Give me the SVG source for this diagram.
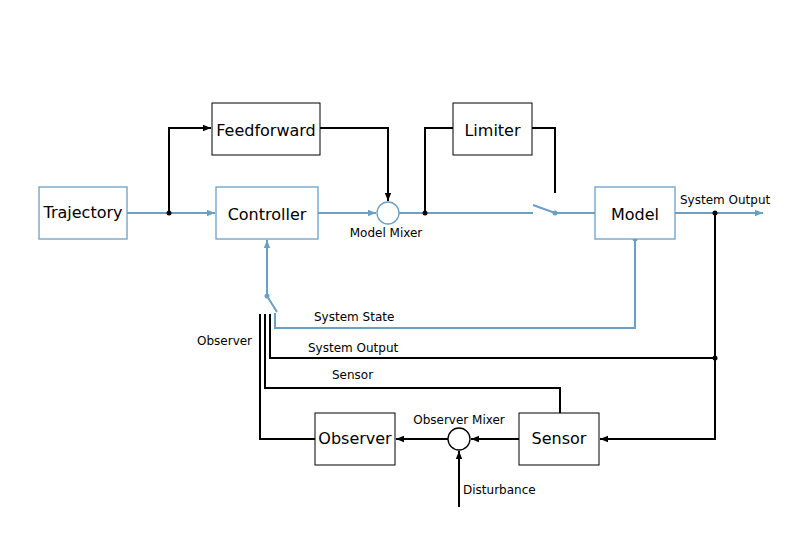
<svg xmlns="http://www.w3.org/2000/svg" width="794" height="560" viewBox="0 0 794 560">
<defs>
<marker id="ab" viewBox="0 0 10 10" refX="10" refY="5" markerWidth="8" markerHeight="8" markerUnits="userSpaceOnUse" orient="auto"><path d="M0,1 L10,5 L0,9 z" fill="#000"/></marker>
<marker id="au" viewBox="0 0 10 10" refX="10" refY="5" markerWidth="8" markerHeight="8" markerUnits="userSpaceOnUse" orient="auto"><path d="M0,1 L10,5 L0,9 z" fill="#6a9fc6"/></marker>
</defs>
<style>
.bb{fill:#fff;stroke:#000;stroke-width:1}
.ub{fill:#fff;stroke:#6a9fc6;stroke-width:1.3}
.lb{fill:none;stroke:#000;stroke-width:2}
.lu{fill:none;stroke:#6a9fc6;stroke-width:2}
.t{font-family:"DejaVu Sans",sans-serif;font-size:16px;text-anchor:middle;fill:#000}
.s{font-family:"DejaVu Sans",sans-serif;font-size:12px;fill:#000}
</style>
<rect width="794" height="560" fill="#fff"/>
<g id="connectors">
<path class="lu" d="M127,213 H215" marker-end="url(#au)"/>
<path class="lb" d="M169,213 V128 H211" marker-end="url(#ab)"/>
<path class="lb" d="M320,128 H388 V201" marker-end="url(#ab)"/>
<path class="lu" d="M318,213 H376" marker-end="url(#au)"/>
<path class="lu" d="M399,213 H533"/>
<path class="lb" d="M425,213 V128 H453"/>
<path class="lb" d="M532,128 H555 V193"/>
<path class="lu" d="M533,205 L555,213 H595"/>
<path class="lu" d="M675,213 H763" marker-end="url(#au)"/>
<path class="lb" d="M715,213 V439 H600" marker-end="url(#ab)"/>
<path class="lb" d="M715,358 H270 V314"/>
<path class="lu" d="M635,239 V328 H275 V313"/>
<path class="lu" d="M277,312 L267,296 V240" marker-end="url(#au)"/>
<path class="lb" d="M560,413 V388 H265 V314"/>
<path class="lb" d="M315,439 H260 V314"/>
<path class="lb" d="M519,439 H471" marker-end="url(#ab)"/>
<path class="lb" d="M448,439 H396" marker-end="url(#ab)"/>
<path class="lb" d="M459,507 V451" marker-end="url(#ab)"/>
<circle cx="169" cy="213" r="2.5" fill="#000"/>
<circle cx="425" cy="213" r="2.5" fill="#000"/>
<circle cx="715" cy="213" r="2.5" fill="#000"/>
<circle cx="715" cy="358" r="2.5" fill="#000"/>
<circle cx="555" cy="213" r="2.5" fill="#6a9fc6"/>
<circle cx="635" cy="239" r="2.5" fill="#6a9fc6"/>
<circle cx="267" cy="296" r="2.5" fill="#6a9fc6"/>
<text class="s" x="680" y="204">System Output</text>
<text class="s" x="314" y="321">System State</text>
<text class="s" x="308" y="352">System Output</text>
<text class="s" x="332" y="379">Sensor</text>
<text class="s" x="197" y="345">Observer</text>
<text class="s" x="463" y="494">Disturbance</text>
</g>
<g id="trajectory"><rect class="ub" x="39" y="187" width="88" height="52"/><text class="t" x="83" y="218">Trajectory</text></g>
<g id="controller"><rect class="ub" x="216" y="187" width="102" height="52"/><text class="t" x="267" y="220">Controller</text></g>
<g id="feedforward"><rect class="bb" x="212" y="103" width="108" height="52"/><text class="t" x="266" y="136">Feedforward</text></g>
<g id="limiter"><rect class="bb" x="453" y="103" width="79" height="52"/><text class="t" x="492.5" y="136">Limiter</text></g>
<g id="model"><rect class="ub" x="595" y="187" width="80" height="52"/><text class="t" x="635" y="220">Model</text></g>
<g id="model-mixer"><circle cx="388" cy="213" r="11" fill="#fff" stroke="#6a9fc6" stroke-width="1.3"/><text class="s" x="386" y="237" text-anchor="middle">Model Mixer</text></g>
<g id="observer"><rect class="bb" x="315" y="413" width="80" height="52"/><text class="t" x="355" y="444">Observer</text></g>
<g id="sensor"><rect class="bb" x="519" y="413" width="80" height="52"/><text class="t" x="559" y="444">Sensor</text></g>
<g id="observer-mixer"><circle cx="459" cy="439" r="11" fill="#fff" stroke="#000" stroke-width="1.3"/><text class="s" x="459" y="424" text-anchor="middle">Observer Mixer</text></g>
</svg>
